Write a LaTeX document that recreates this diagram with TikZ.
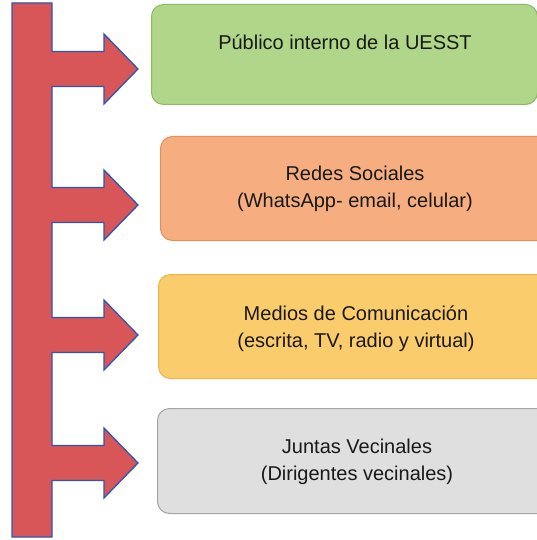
\documentclass[tikz,border=0pt]{standalone}
\usepackage{fontspec}
\setmainfont{Liberation Sans}
\definecolor{barred}{RGB}{216,86,88}
\definecolor{barblue}{RGB}{45,85,185}
\definecolor{gfill}{RGB}{176,214,138}
\definecolor{gdraw}{RGB}{140,185,100}
\definecolor{ofill}{RGB}{246,174,128}
\definecolor{odraw}{RGB}{225,145,95}
\definecolor{yfill}{RGB}{250,204,108}
\definecolor{ydraw}{RGB}{235,180,75}
\definecolor{sfill}{RGB}{223,223,223}
\definecolor{sdraw}{RGB}{165,165,165}
\tikzset{
  boxshape/.style={draw, line width=1pt, rounded corners=12pt, inner sep=0pt, anchor=north west},
  linetext/.style={anchor=base, inner sep=0pt, font=\fontsize{20}{24}\selectfont, text=black!90},
}
\begin{document}
\begin{tikzpicture}[x=1pt,y=-1pt]
\useasboundingbox (0,0) rectangle (537,540);
\clip (0,0) rectangle (537,540);
% boxes
\node[boxshape, fill=gfill, draw=gdraw, minimum width=386pt, minimum height=100pt] (b1) at (151,4) {};
\node[boxshape, fill=ofill, draw=odraw, minimum width=392pt, minimum height=104pt] (b2) at (160,136) {};
\node[boxshape, fill=yfill, draw=ydraw, minimum width=396pt, minimum height=104pt] (b3) at (158,274) {};
\node[boxshape, fill=sfill, draw=sdraw, minimum width=400pt, minimum height=105pt] (b4) at (157,408) {};
% texts
\node[linetext] (t1) at (345,50) {Público interno de la UESST};
\node[linetext] (t2a) at (355,180) {Redes Sociales};
\node[linetext] (t2b) at (355,207) {(WhatsApp- email, celular)};
\node[linetext] (t3a) at (356,320) {Medios de Comunicación};
\node[linetext] (t3b) at (356,347) {(escrita, TV, radio y virtual)};
\node[linetext] (t4a) at (357,453) {Juntas Vecinales};
\node[linetext] (t4b) at (357,480) {(Dirigentes vecinales)};
% bar with arrows
\draw[fill=barred, draw=barblue, line width=1.3pt, line join=miter]
  (12,3) -- (52,3)
  \foreach \c in {69,205,335,463} {
    -- (52,\c-17.5) -- (104,\c-17.5) -- (104,\c-35) -- (138,\c)
    -- (104,\c+35) -- (104,\c+17.5) -- (52,\c+17.5)
  }
  -- (52,537) -- (12,537) -- cycle;
\end{tikzpicture}
\end{document}
